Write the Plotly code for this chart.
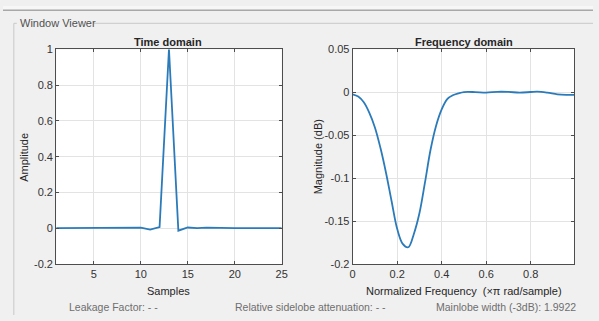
import plotly.graph_objects as go

# ---- data ----
samples = list(range(1, 26))
amplitude = [0, 0, 0, 0, 0, 0, 0, 0, 0.001, 0.003, -0.008, 0.006, 1.0, -0.014, 0.004,
             0.001, 0.003, 0.001, 0, 0, 0, 0, 0, 0, 0]

freq = [0, 0.025, 0.05, 0.075, 0.1, 0.125, 0.15, 0.175, 0.2, 0.225, 0.25,
        0.275, 0.3, 0.325, 0.35, 0.375, 0.4, 0.425, 0.45, 0.475, 0.5, 0.55, 0.6,
        0.65, 0.7, 0.75, 0.8, 0.83, 0.875, 0.92, 0.96, 0.996]
magnitude = [-0.0024, -0.005, -0.0117, -0.024, -0.041, -0.065, -0.094, -0.127, -0.159,
             -0.1765, -0.1805, -0.165, -0.141, -0.105, -0.067, -0.039, -0.020,
             -0.008, -0.0035, -0.0013, 0.0002, 0.0002, -0.0004, 0.0005, 0.0004, -0.0004,
             0.0003, 0.0007, -0.0005, -0.0024, -0.003, -0.003]

t_xticks = [5, 10, 15, 20, 25]
t_yticks = [1, 0.8, 0.6, 0.4, 0.2, 0, -0.2]
t_yticklabels = ["1", "0.8", "0.6", "0.4", "0.2", "0", "-0.2"]
f_xticks = [0, 0.2, 0.4, 0.6, 0.8]
f_xticklabels = ["0", "0.2", "0.4", "0.6", "0.8"]
f_yticks = [0.05, 0, -0.05, -0.1, -0.15, -0.2]
f_yticklabels = ["0.05", "0", "-0.05", "-0.1", "-0.15", "-0.2"]

LINE = "#2b7bba"
FONT = "Liberation Sans, Arial, sans-serif"
W, H = 599, 321

fig = go.Figure()
fig.add_trace(go.Scatter(x=samples, y=amplitude, mode="lines",
                         line=dict(color=LINE, width=1.8), xaxis="x", yaxis="y",
                         showlegend=False, hoverinfo="skip"))
fig.add_trace(go.Scatter(x=freq, y=magnitude, mode="lines",
                         line=dict(color=LINE, width=1.8, shape="spline", smoothing=1),
                         xaxis="x2", yaxis="y2",
                         showlegend=False, hoverinfo="skip"))

def px(x):
    return x / W

def py(y):
    return 1 - y / H

axis_common = dict(showline=True, linecolor="#4d4d4d", linewidth=1, mirror="allticks",
                   ticks="inside", ticklen=3, tickcolor="#4d4d4d",
                   showgrid=True, gridcolor="#e3e3e3", gridwidth=1,
                   zeroline=False, tickfont=dict(family=FONT, size=11, color="#333333"))

fig.update_layout(
    width=W, height=H,
    margin=dict(l=0, r=0, t=0, b=0),
    paper_bgcolor="#f0f0f0",
    plot_bgcolor="white",
    xaxis=dict(domain=[px(54), px(283)], range=[1, 25], tickvals=t_xticks,
               anchor="y", **axis_common),
    yaxis=dict(domain=[py(268), py(45)], range=[-0.2, 1], tickvals=t_yticks,
               ticktext=t_yticklabels, anchor="x", **axis_common),
    xaxis2=dict(domain=[px(355), px(580)], range=[0, 0.996], tickvals=f_xticks,
                ticktext=f_xticklabels, anchor="y2", **axis_common),
    yaxis2=dict(domain=[py(268), py(45)], range=[-0.2, 0.05], tickvals=f_yticks,
                ticktext=f_yticklabels, anchor="x2", **axis_common),
)

shapes = [
    # top band
    dict(type="rect", xref="paper", yref="paper", x0=0, x1=1, y0=py(4), y1=1,
         fillcolor="#f7f7f7", line_width=0, layer="below"),
    dict(type="line", xref="paper", yref="paper", x0=0, x1=1, y0=py(4.5), y1=py(4.5),
         line=dict(color="#a8a8a8", width=1.5)),
    # group box
    dict(type="line", xref="paper", yref="paper", x0=px(11), x1=px(14), y0=py(18), y1=py(18),
         line=dict(color="#c8c8c8", width=1)),
    dict(type="line", xref="paper", yref="paper", x0=px(92), x1=1, y0=py(18), y1=py(18),
         line=dict(color="#c8c8c8", width=1)),
    dict(type="line", xref="paper", yref="paper", x0=px(11), x1=px(11), y0=0, y1=py(18),
         line=dict(color="#c8c8c8", width=1)),
]
fig.update_layout(shapes=shapes)

def ann(text, x, y, size=11, color="#262626", bold=False, angle=0, xanchor="center"):
    if bold:
        text = "<b>" + text + "</b>"
    return dict(text=text, x=px(x), y=py(y), xref="paper", yref="paper",
                showarrow=False, textangle=angle, xanchor=xanchor, yanchor="middle",
                font=dict(family=FONT, size=size, color=color))

annotations = [
    ann("Window Viewer", 15, 18, size=11, color="#505050", xanchor="left"),
    ann("Time domain", 168, 37, size=11, bold=True),
    ann("Frequency domain", 468, 37, size=11, bold=True),
    ann("Samples", 168, 296, size=11),
    ann("Amplitude", 21, 157, size=11, angle=-90),
    ann("Magnitude (dB)", 320, 157, size=11, angle=-90),
    ann("Normalized Frequency  (×π rad/sample)", 468, 296, size=11),
    ann("Leakage Factor: - -", 112, 313, size=10.5, color="#6e6e6e"),
    ann("Relative sidelobe attenuation: - -", 312, 313, size=10.5, color="#6e6e6e"),
    ann("Mainlobe width (-3dB): 1.9922", 511, 313, size=10.5, color="#6e6e6e"),
]
fig.update_layout(annotations=annotations)

fig.write_html("out.html")
